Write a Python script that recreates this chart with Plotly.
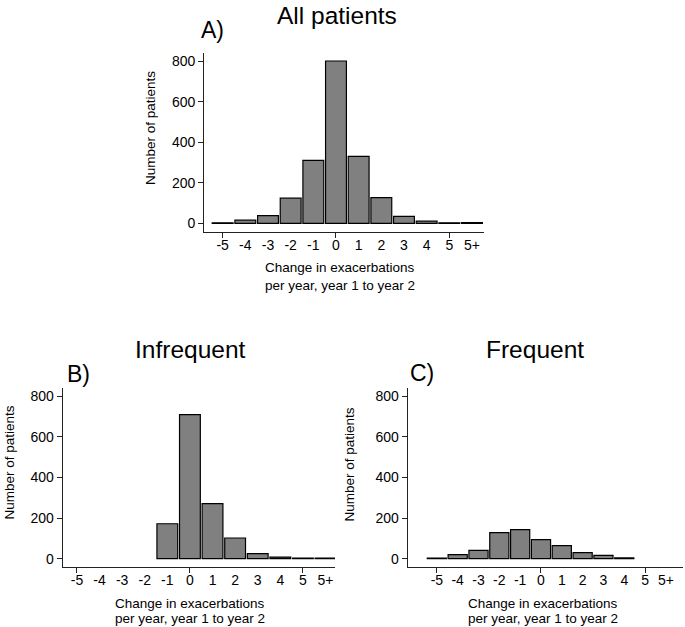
import plotly.graph_objects as go

W, H = 685, 627

categories = ["-5", "-4", "-3", "-2", "-1", "0", "1", "2", "3", "4", "5", "5+"]
positions = [-5, -4, -3, -2, -1, 0, 1, 2, 3, 4, 5, 6]

# None = no bar drawn at that category
all_patients = [3, 16, 38, 124, 310, 800, 330, 127, 35, 11, 3, 4]
infrequent = [None, None, None, None, 172, 710, 271, 102, 25, 8, 3, 3]
frequent = [3, 20, 41, 128, 143, 94, 64, 30, 16, 4, None, None]

y_ticks = [0, 200, 400, 600, 800]
x_major_ticks = [-5, 0, 5]

panel_titles = ["All patients", "Infrequent", "Frequent"]
panel_letters = ["A)", "B)", "C)"]
x_title_lines = ["Change in exacerbations", "per year, year 1 to year 2"]
y_title = "Number of patients"

FONT = "Liberation Sans, Arial, Helvetica, sans-serif"


def px_x(x):
    return x / W


def px_y(y):
    return 1 - y / H


panels = [
    dict(l=204.3, r=484, t=52.7, b=231.7, xr=[-5.81, 6.53]),
    dict(l=62.7, r=335, t=388, b=567, xr=[-5.63, 6.42]),
    dict(l=407.7, r=683, t=388, b=567, xr=[-6.40, 6.82]),
]
series = [all_patients, infrequent, frequent]
YR = [-41, 841]

fig = go.Figure()
layout = dict(
    width=W, height=H,
    margin=dict(l=0, r=0, t=0, b=0),
    paper_bgcolor="white", plot_bgcolor="white",
    showlegend=False,
    font=dict(family=FONT, color="black", size=14),
)

annotations = []
for i, (p, vals) in enumerate(zip(panels, series)):
    n = i + 1
    xa = "x" if n == 1 else f"x{n}"
    ya = "y" if n == 1 else f"y{n}"
    fig.add_trace(go.Bar(
        x=positions, y=vals, xaxis=xa, yaxis=ya,
        width=0.92,
        marker=dict(color="#808080", line=dict(color="black", width=1.2)),
        hovertext=categories,
    ))
    xdom = [px_x(p["l"]), px_x(p["r"])]
    ydom = [px_y(p["b"]), px_y(p["t"])]
    layout[f"xaxis{'' if n == 1 else n}"] = dict(
        domain=xdom, range=p["xr"], anchor=ya,
        tickvals=positions, ticktext=categories,
        ticks="",
        showline=True, linecolor="#222", linewidth=1.3,
        showgrid=False, zeroline=False,
        tickfont=dict(size=14, family=FONT),
    )
    layout[f"yaxis{'' if n == 1 else n}"] = dict(
        domain=ydom, range=YR, anchor=xa,
        tickvals=y_ticks,
        ticks="", ticklabelstandoff=5,
        showline=True, linecolor="#222", linewidth=1.3,
        showgrid=False, zeroline=False,
        tickfont=dict(size=14, family=FONT),
    )
    # overlay axes carrying the tick marks
    layout[f"xaxis{n + 3}"] = dict(
        domain=xdom, range=p["xr"], anchor=ya, overlaying=xa,
        tickvals=x_major_ticks, showticklabels=False,
        ticks="outside", ticklen=5, tickcolor="#222", tickwidth=1,
        showline=False, showgrid=False, zeroline=False,
    )
    layout[f"yaxis{n + 3}"] = dict(
        domain=ydom, range=YR, anchor=xa, overlaying=ya,
        tickvals=y_ticks, showticklabels=False,
        ticks="outside", ticklen=5, tickcolor="#222", tickwidth=1,
        showline=False, showgrid=False, zeroline=False,
    )
    fig.add_trace(go.Scatter(x=[p["xr"][0]], y=[-1000], xaxis=f"x{n + 3}", yaxis=ya,
                             mode="markers", marker=dict(opacity=0), hoverinfo="skip"))
    fig.add_trace(go.Scatter(x=[p["xr"][0]], y=[-1000], xaxis=xa, yaxis=f"y{n + 3}",
                             mode="markers", marker=dict(opacity=0), hoverinfo="skip"))

title_pos = [(337, 15.3), (190, 349.5), (535, 349)]
letter_pos = [(212.5, 29.5), (78, 374), (421.5, 373)]
ytitle_pos = [(150, 128), (8.5, 463), (348.5, 465)]
xtitle_pos = [(340, [268, 285]), (190, [603, 618]), (543, [603, 618])]

for i in range(3):
    tx, ty = title_pos[i]
    annotations.append(dict(x=px_x(tx), y=px_y(ty), xref="paper", yref="paper",
                            text=panel_titles[i], showarrow=False,
                            font=dict(size=24.5, family=FONT), xanchor="center", yanchor="middle"))
    lx, ly = letter_pos[i]
    annotations.append(dict(x=px_x(lx), y=px_y(ly), xref="paper", yref="paper",
                            text=panel_letters[i], showarrow=False,
                            font=dict(size=23, family=FONT), xanchor="center", yanchor="middle"))
    yx, yy = ytitle_pos[i]
    annotations.append(dict(x=px_x(yx), y=px_y(yy), xref="paper", yref="paper",
                            text=y_title, showarrow=False, textangle=-90,
                            font=dict(size=13.5, family=FONT), xanchor="center", yanchor="middle"))
    xx, ys = xtitle_pos[i]
    for line, ly2 in zip(x_title_lines, ys):
        annotations.append(dict(x=px_x(xx), y=px_y(ly2), xref="paper", yref="paper",
                                text=line, showarrow=False,
                                font=dict(size=13.5, family=FONT), xanchor="center", yanchor="middle"))

layout["annotations"] = annotations
fig.update_layout(**layout)
fig.write_html("out.html",
               config={"displayModeBar": False},
               post_script="document.body.style.margin='0';document.body.style.padding='0';document.body.style.overflow='hidden';")
